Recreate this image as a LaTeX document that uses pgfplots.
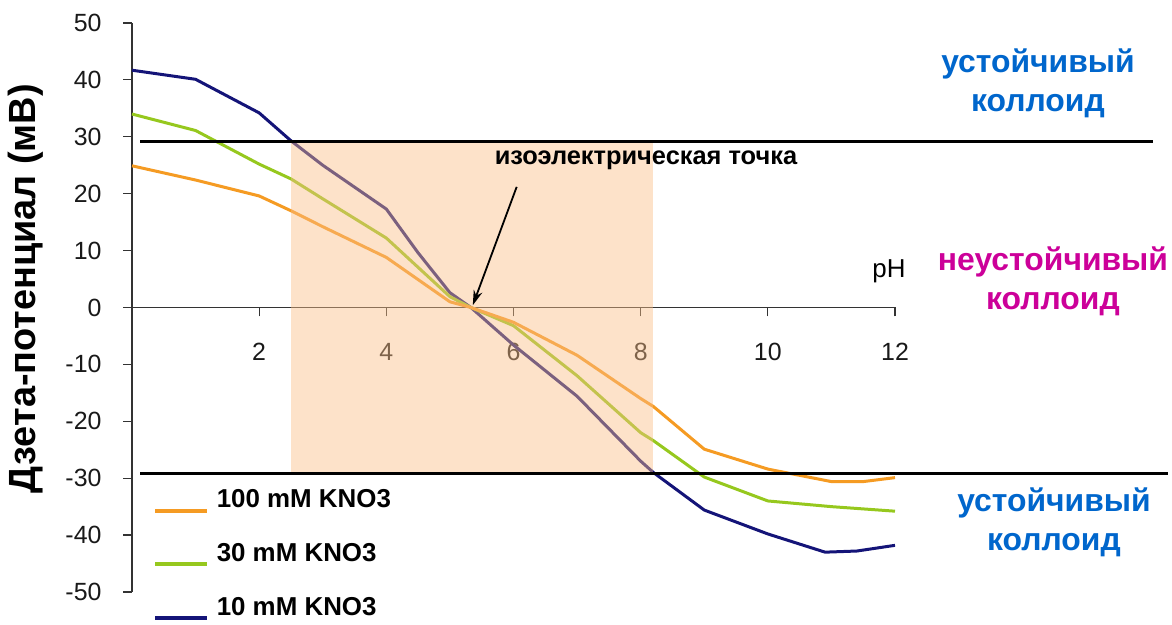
\documentclass[border=0pt]{standalone}
\usepackage{fontspec}
\setmainfont{Liberation Sans}
\usepackage{pgfplots}
\pgfplotsset{compat=1.18}
\usetikzlibrary{arrows.meta}

\definecolor{c100}{RGB}{245,155,35}
\definecolor{c30}{RGB}{150,200,30}
\definecolor{c10}{RGB}{20,20,120}
\definecolor{bandcolor}{RGB}{250,190,135}
\definecolor{stableblue}{RGB}{0,102,204}
\definecolor{unstablemag}{RGB}{204,0,153}

\begin{document}
\begin{tikzpicture}[x=1bp,y=1bp]
\useasboundingbox (0,0) rectangle (1172,625);
\begin{axis}[
  at={(132bp,33bp)}, anchor=south west,
  scale only axis, width=763bp, height=569bp,
  xmin=0, xmax=12, ymin=-50, ymax=50,
  axis x line=middle, axis y line=left,
  axis line style={-, black!80, line width=1.2bp},
  hide obscured x ticks=false, hide obscured y ticks=false,
  xtick={2,4,...,12}, ytick={-50,-40,...,50},
  tick align=outside, major tick length=9bp,
  tick style={black!80, line width=1.2bp},
  /pgf/number format/assume math mode=true,
  ticklabel style={font=\fontsize{25}{30}\selectfont, text=black!90},
  xticklabel style={yshift=-23bp},
  ylabel={Дзета-потенциал (мВ)},
  ylabel style={at={(axis description cs:-0.139,0.533)}, rotate=0, anchor=center,
    font=\bfseries\fontsize{38}{44}\selectfont},
  clip=false,
  reverse legend,
  legend cell align=left,
  legend style={at={(axis cs:0.3,-31.3)}, anchor=north west, draw=none, fill=white,
    font=\bfseries\fontsize{26}{31}\selectfont,
    nodes={font=\bfseries\fontsize{26}{31}\selectfont},
    row sep=29bp, inner sep=2bp},
  legend image code/.code={\draw[#1, line width=4bp] (0bp,-11bp) -- (52bp,-11bp);
    \path (58bp,0bp);},
  every y tick label/.append style={xshift=-18bp},
]
% 10 mM KNO3
\addplot[c10, line width=3bp] coordinates {
 (0,41.7) (1,40.1) (2,34.2) (2.5,29.3) (3,25.0) (4,17.3) (4.5,9.6) (5,2.6) (5.33,0)
 (6,-6.6) (7,-15.6) (8,-27.0) (8.2,-29.0) (9,-35.6) (10,-39.8) (10.9,-43.0)
 (11.4,-42.8) (12,-41.8)};
\addlegendentry{10 mM KNO3}
% 30 mM KNO3
\addplot[c30, line width=3bp] coordinates {
 (0,34.0) (1,31.1) (2,25.2) (2.5,22.6) (3,19.1) (4,12.2) (5,1.9) (5.33,0)
 (6,-3.2) (7,-12.0) (8,-22.0) (8.2,-23.4) (9,-29.8) (10,-34.0) (11,-35.0) (12,-35.8)};
\addlegendentry{30 mM KNO3}
% 100 mM KNO3
\addplot[c100, line width=3bp] coordinates {
 (0,24.9) (1,22.4) (2,19.6) (2.5,17.0) (3,14.2) (4,8.8) (5,1.0) (5.33,0)
 (6,-2.6) (7,-8.4) (8,-16.0) (8.2,-17.4) (9,-24.9) (10,-28.4) (11,-30.6)
 (11.5,-30.6) (12,-29.9)};
\addlegendentry{100 mM KNO3}

% reference points for the overlay drawn after the axis
\coordinate (shA) at (axis cs:2.5,29.2);
\coordinate (shB) at (axis cs:8.2,-29.2);
\coordinate (upL) at (axis cs:0.13,29.2);
\coordinate (upR) at (axis cs:16.06,29.2);
\coordinate (loL) at (axis cs:0.13,-29.2);
\coordinate (loR) at (axis cs:16.3,-29.2);
\coordinate (arS) at (axis cs:6.05,21.2);
\coordinate (arE) at (axis cs:5.36,0.4);
\end{axis}

% stability band and limits
\fill[bandcolor, opacity=0.45] (shA) rectangle (shB);
\draw[black, line width=3bp] (upL) -- (upR);
\draw[black, line width=3bp] (loL) -- (loR);
\draw[-{Stealth[length=15bp,width=9bp]}, line width=1.8bp] (arS) -- (arE);

\node[anchor=base, font=\bfseries\fontsize{25.5}{30}\selectfont] at (646,460) {изоэлектрическая точка};
\node[anchor=base, font=\fontsize{26}{30}\selectfont] at (889,347) {pH};

\begin{scope}[every node/.style={anchor=base, font=\bfseries\fontsize{32}{38}\selectfont}]
\node[text=stableblue] at (1038,552) {устойчивый};
\node[text=stableblue] at (1038,513) {коллоид};
\node[text=unstablemag] at (1053,354) {неустойчивый};
\node[text=unstablemag] at (1053,315) {коллоид};
\node[text=stableblue] at (1054,113) {устойчивый};
\node[text=stableblue] at (1054,74) {коллоид};
\end{scope}
\end{tikzpicture}
\end{document}
